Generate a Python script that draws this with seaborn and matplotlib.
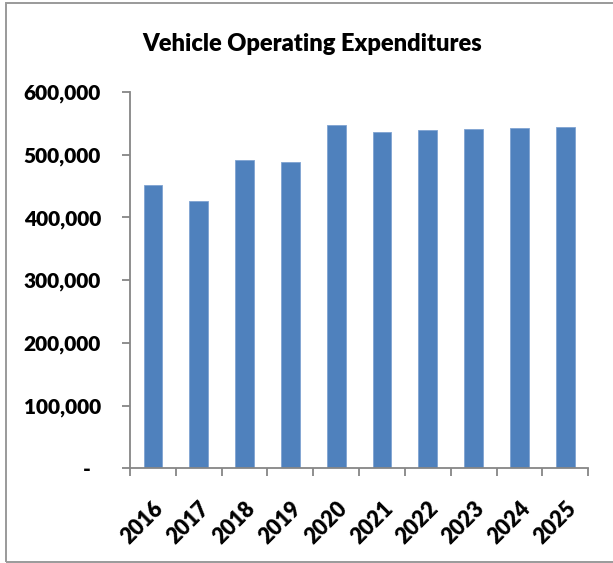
import matplotlib
matplotlib.use("Agg")
import matplotlib.pyplot as plt
from matplotlib.patches import Rectangle
from matplotlib.ticker import FuncFormatter, FixedLocator
import seaborn as sns
import pandas as pd

years = ["2016", "2017", "2018", "2019", "2020", "2021", "2022", "2023", "2024", "2025"]
expenditures = [451000, 426000, 492000, 488000, 548000, 537000, 539000, 541000, 542000, 544000]
y_ticks = [0, 100000, 200000, 300000, 400000, 500000, 600000]
title = "Vehicle Operating Expenditures"

sns.set_theme(style="white")
plt.rcParams["font.family"] = ["Lato", "DejaVu Sans"]
WEIGHT = "heavy"

df = pd.DataFrame({"year": years, "value": expenditures})

fig = plt.figure(figsize=(6.13, 5.63), dpi=100)
ax = fig.add_axes([130 / 613, 1 - 468.3 / 563, (588.3 - 130) / 613, (468.3 - 92) / 563])

sns.barplot(data=df, x="year", y="value", color="#4F81BD", width=0.41,
            saturation=1, edgecolor="#7FA3D2", linewidth=0.6, ax=ax)

axis_color = "#868686"
ax.set_xlim(-0.5, len(years) - 0.5)
ax.set_ylim(0, 600000)
ax.set_xlabel("")
ax.set_ylabel("")
for side in ("top", "right"):
    ax.spines[side].set_visible(False)
for side in ("left", "bottom"):
    ax.spines[side].set_color(axis_color)
    ax.spines[side].set_linewidth(1.3)

# y axis: accounting-style labels with a dash at zero
ax.yaxis.set_major_locator(FixedLocator(y_ticks))
ax.yaxis.set_major_formatter(FuncFormatter(lambda v, p: "-  " if v == 0 else f"{int(v):,}"))
ax.tick_params(axis="y", which="major", direction="out", length=6, width=1.3,
               color=axis_color, left=True, pad=15, labelsize=15)

# x axis: tick marks between categories, labels centred under bars
ax.set_xticks(range(len(years)))
ax.set_xticklabels(years, rotation=45, ha="right", rotation_mode="anchor")
ax.tick_params(axis="x", which="major", length=0, pad=21, labelsize=15.5)
ax.xaxis.set_minor_locator(FixedLocator([i - 0.5 for i in range(len(years) + 1)]))
ax.tick_params(axis="x", which="minor", direction="out", length=6, width=1.3,
               color=axis_color, bottom=True)
for lbl in ax.get_xticklabels() + ax.get_yticklabels():
    lbl.set_fontweight(WEIGHT)
    lbl.set_color("black")

fig.text(312 / 613, 1 - 44 / 563, title, ha="center", va="center",
         fontsize=17, fontweight=WEIGHT, color="black")

# chart area frame
fig.patches.append(Rectangle((6 / 613, 1 - 562 / 563), 1.2, (562 - 3) / 563,
                             transform=fig.transFigure, fill=False,
                             edgecolor="#9a9a9a", linewidth=1.4, zorder=0))

fig.savefig("out.png", dpi=100)
